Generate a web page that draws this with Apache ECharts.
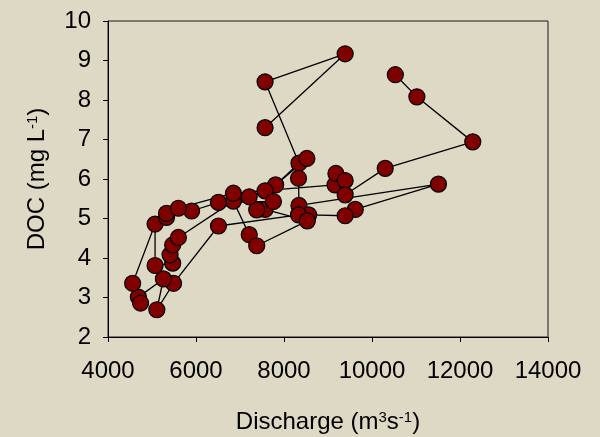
<!DOCTYPE html>
<html>
<head>
<meta charset="utf-8">
<title>DOC vs Discharge</title>
<script src="https://cdn.jsdelivr.net/npm/echarts@6/dist/echarts.min.js"></script>
<style>
  html, body { margin: 0; padding: 0; background: #DDD9C4; }
  #chart { width: 600px; height: 437px; }
</style>
</head>
<body>
<div id="chart"></div>
<script>
// Sampling sequence: discharge (m3/s) and dissolved organic carbon (mg/L)
const discharge = [
  7570, 9390, 7570, 8340, 7810, 8520, 8330, 8340, 11510, 9620,
  9390, 8560, 8330, 6510, 5490, 5110, 5260, 4690, 4740, 4560,
  5070, 5070, 5470, 5410, 5470, 5600, 6850, 7210, 7380, 8530,
  7570, 7380, 7210, 7570, 7760, 6510, 5900, 5330, 5330, 5600,
  6850, 9160, 9180, 9390, 9390, 10300, 12290, 11020, 10530
];
const doc = [
  7.30, 9.17, 8.46, 6.40, 5.85, 6.52, 6.02, 5.33, 5.87, 5.23,
  5.07, 5.09, 5.09, 4.81, 3.36, 2.69, 3.47, 3.01, 2.86, 3.36,
  4.86, 3.81, 3.87, 4.08, 4.33, 4.52, 5.44, 4.59, 4.31, 4.94,
  5.23, 5.22, 5.55, 5.70, 5.43, 5.41, 5.19, 5.03, 5.13, 5.26,
  5.64, 5.85, 6.14, 5.96, 5.60, 6.27, 6.94, 8.08, 8.64
];

const xRange = { min: 4000, max: 14000, interval: 2000 };
const yRange = { min: 2, max: 10, interval: 1 };

const points = discharge.map((q, i) => [q, doc[i]]);

const font = "'Liberation Sans', Arial, sans-serif";
const chart = echarts.init(document.getElementById('chart'), null, { renderer: 'canvas' });

const supStyle = { fontSize: 15, fontFamily: font, color: '#000', verticalAlign: 'top', padding: [0, 0, 10, 0] };

chart.setOption({
  backgroundColor: '#DDD9C4',
  animation: false,
  grid: {
    left: 108, right: 52, top: 21, bottom: 100,
    containLabel: false,
    outerBoundsMode: 'none',
    show: true, borderColor: '#1a1a1a', borderWidth: 1,
    backgroundColor: 'transparent'
  },
  xAxis: {
    type: 'value',
    min: xRange.min, max: xRange.max, interval: xRange.interval,
    name: 'Discharge (m{sup|3}s{sup|-1})',
    nameLocation: 'middle',
    nameGap: 73,
    nameTextStyle: {
      color: '#000', fontFamily: font, fontSize: 24,
      rich: { sup: supStyle }
    },
    axisLine: { lineStyle: { color: '#000', width: 1 } },
    axisTick: { show: true, inside: false, length: 5, lineStyle: { color: '#000' } },
    axisLabel: {
      color: '#000', fontFamily: font, fontSize: 24, margin: 22,
      formatter: v => String(v)
    },
    splitLine: { show: false }
  },
  yAxis: {
    type: 'value',
    min: yRange.min, max: yRange.max, interval: yRange.interval,
    name: 'DOC (mg L{sup|-1})',
    nameLocation: 'middle',
    nameGap: 58,
    nameRotate: 90,
    nameTextStyle: {
      color: '#000', fontFamily: font, fontSize: 24,
      rich: { sup: supStyle }
    },
    axisLine: { show: true, lineStyle: { color: '#000', width: 1 } },
    axisTick: { show: true, inside: false, length: 5, lineStyle: { color: '#000' } },
    axisLabel: { color: '#000', fontFamily: font, fontSize: 24, margin: 17 },
    splitLine: { show: false }
  },
  series: [{
    type: 'line',
    data: points,
    symbol: 'circle',
    symbolSize: 16,
    showAllSymbol: true,
    lineStyle: { color: '#000', width: 1.3 },
    itemStyle: { color: '#800000', borderColor: '#000', borderWidth: 1.2 },
    emphasis: { disabled: true }
  }]
});
</script>
</body>
</html>
